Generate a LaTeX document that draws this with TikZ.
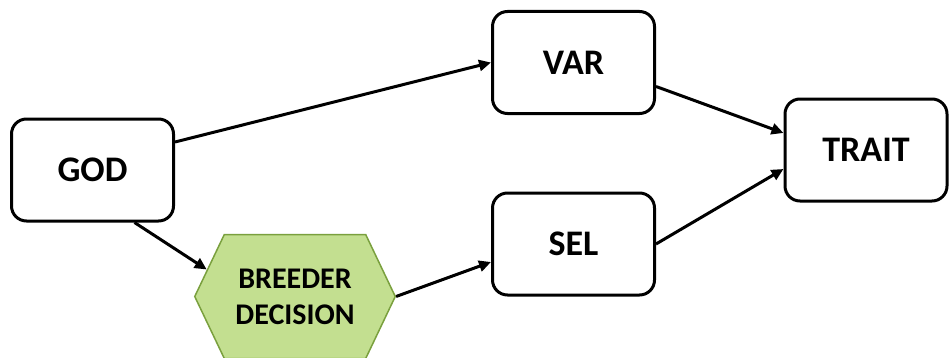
\documentclass[tikz,border=0pt]{standalone}
\usepackage{fontspec}
\setmainfont{Carlito}
\usetikzlibrary{arrows.meta,shapes.symbols}
\definecolor{hexfill}{RGB}{195,223,144}
\definecolor{hexline}{RGB}{122,160,62}
\begin{document}
\begin{tikzpicture}[x=1pt,y=1pt,
  box/.style={draw=black, line width=3pt, rounded corners=15pt, fill=white,
    minimum width=162pt, minimum height=102pt, inner sep=0pt,
    font=\fontsize{36}{40}\selectfont\bfseries},
  hexnode/.style={signal, signal to=east and west, signal pointer angle=129,
    draw=hexline, fill=hexfill, line width=1.5pt, inner sep=0pt,
    minimum width=200.5pt, minimum height=124pt, align=center,
    font=\fontsize{30}{36}\selectfont\bfseries},
  link/.style={line width=3pt, -{Triangle[length=12pt,width=11pt]}}]
  \useasboundingbox (0,0) rectangle (949,357);
  \clip (0,0) rectangle (949,357);

  % boxes
  \node[box] (god)   at (92.5,187)  {GOD};
  \node[box] (var)   at (573.5,294.5) {VAR};
  \node[box] (sel)   at (573.5,113) {SEL};
  \node[box] (trait) at (866,207)   {TRAIT};
  \node[hexnode] (bd) at (295,60.5) {BREEDER\\DECISION};

  % connectors
  \draw[link] ([yshift=28pt]god.east) -- (var.west);
  \draw[link] ([xshift=42pt]god.south) -- (bd.163);
  \draw[link] (bd.east) -- ([yshift=-18pt]sel.west);
  \draw[link] ([yshift=-24pt]var.east) -- ([yshift=17pt]trait.west);
  \draw[link] (sel.east) -- ([yshift=-19pt]trait.west);
\end{tikzpicture}
\end{document}
